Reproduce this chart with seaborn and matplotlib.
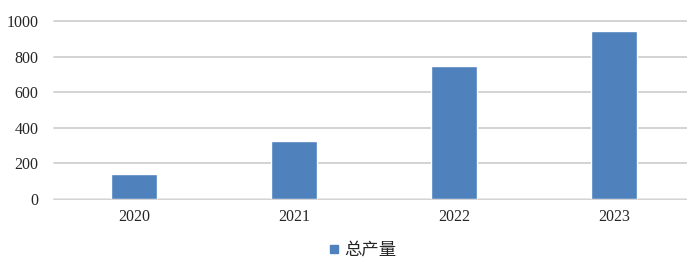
import matplotlib
matplotlib.use("Agg")
import matplotlib.pyplot as plt
import seaborn as sns
import pandas as pd
from matplotlib.lines import Line2D

years = ["2020", "2021", "2022", "2023"]
output = [140, 326, 748, 944]
series_name = "总产量"

df = pd.DataFrame({"year": years, "value": output})

sns.set_style("white")
plt.rcParams["font.family"] = ["Liberation Serif", "Noto Sans CJK SC"]

fig = plt.figure(figsize=(6.87, 2.59), dpi=100)
ax = fig.add_axes([54 / 687, 60 / 259, 640 / 687, 178 / 259])

sns.barplot(data=df, x="year", y="value", color="#4f81bd", width=0.29,
            saturation=1, ax=ax, zorder=3)

ax.set_ylim(0, 1000)
ax.set_yticks(range(0, 1001, 200))
ax.set_xlim(-0.5, 3.5)
ax.yaxis.grid(True, color="#d0d0d0", linewidth=1.3, zorder=0)
for gl in ax.get_ygridlines():
    gl.set_clip_on(False)
ax.set_xlabel("")
ax.set_ylabel("")
for s in ax.spines.values():
    s.set_visible(False)
ax.axhline(0, color="#e8e8e8", linewidth=1.3, zorder=2)
ax.tick_params(axis="both", length=0, labelsize=11.5, colors="#262626")
ax.tick_params(axis="y", pad=11)
ax.tick_params(axis="x", pad=7)

handle = Line2D([], [], marker="s", linestyle="none", color="#4f81bd", markersize=5.5)
fig.legend([handle], [series_name], loc="center", bbox_to_anchor=(360 / 687, 1 - 250 / 259),
           frameon=False, handletextpad=0.0, handlelength=1.2,
           prop={"family": ["Noto Sans CJK SC"], "size": 12.5})

fig.savefig("out.png", dpi=100)
